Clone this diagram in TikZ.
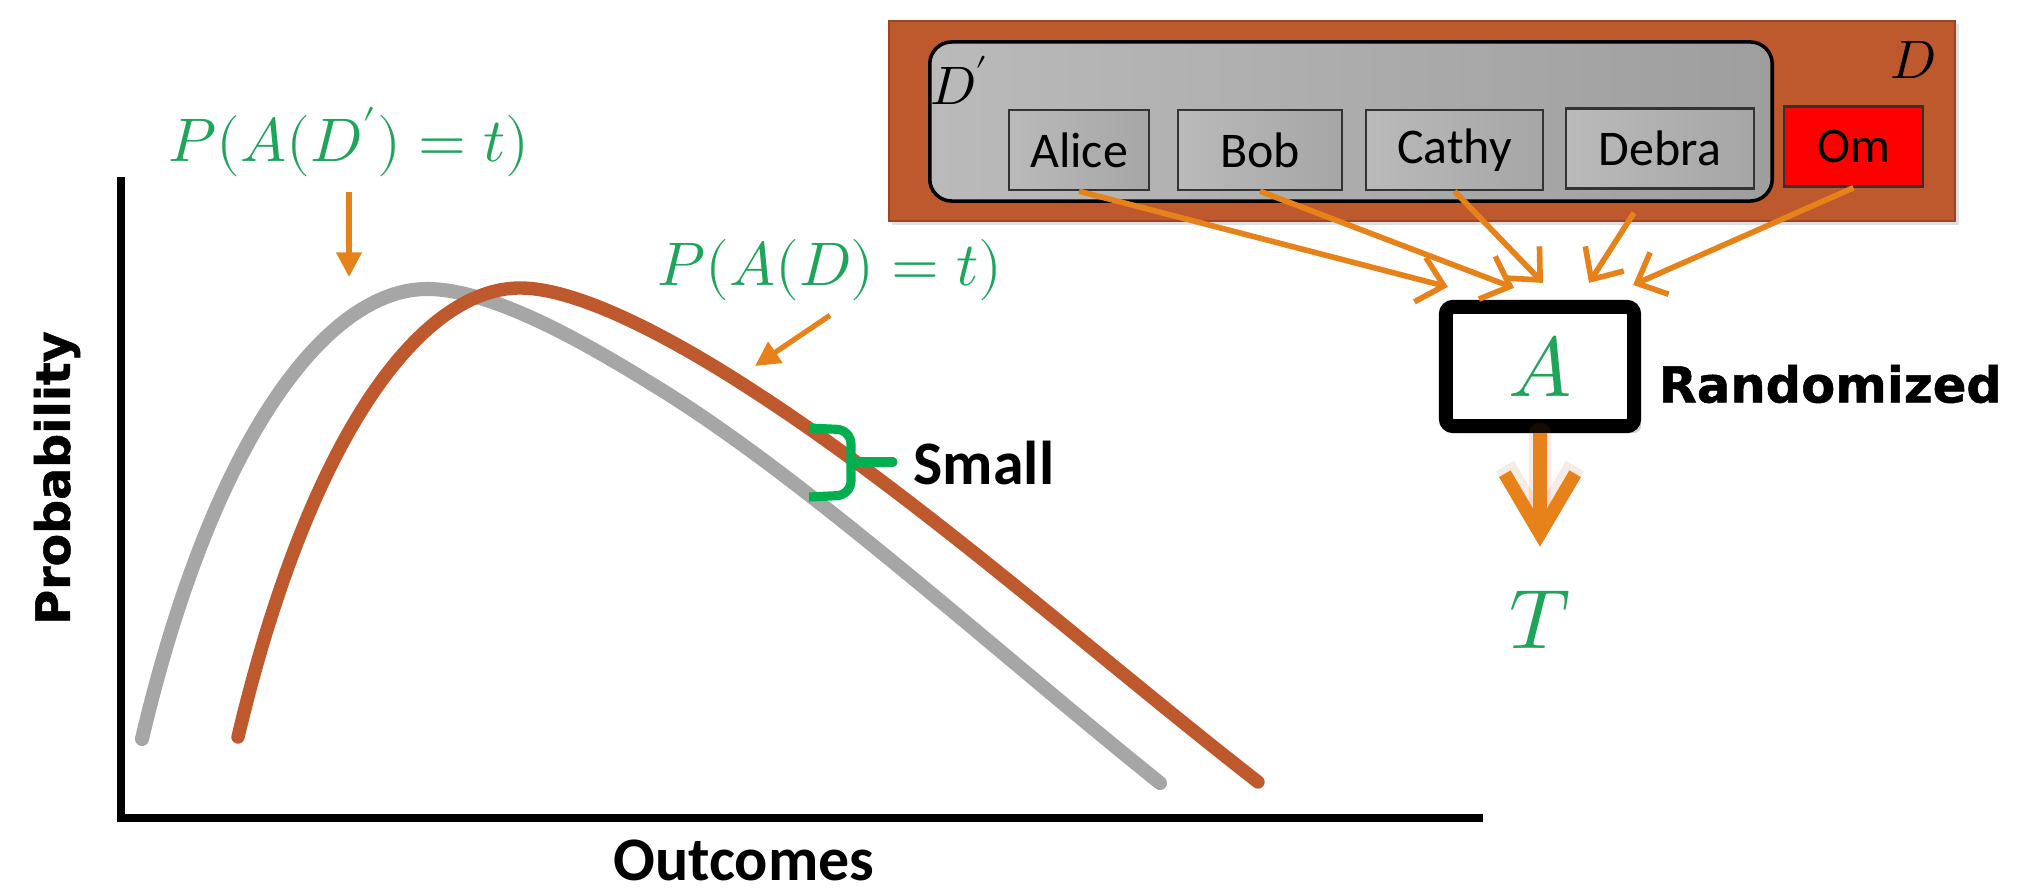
\documentclass[tikz,border=0pt]{standalone}
\usepackage{fontspec}
\usepackage{unicode-math}
\setmainfont{Carlito}
\newfontfamily\heavyfont{DejaVu Sans}[BoldFeatures={FakeBold=1}]
\usetikzlibrary{positioning, arrows.meta, shadows}

\definecolor{dpgreen}{RGB}{30,165,90}
\definecolor{bracegreen}{RGB}{0,176,80}
\definecolor{arrorange}{RGB}{230,130,25}
\definecolor{rust}{RGB}{190,88,45}
\definecolor{curvegray}{RGB}{166,166,166}

\begin{document}
\begin{tikzpicture}[x=0.01cm, y=-0.01cm,
    person/.style={draw=black!80, line width=0.7pt, minimum height=0.8cm, inner sep=0pt, left color=black!27, right color=black!35, font=\fontsize{14.2}{16}\selectfont},
    feed/.style={draw=arrorange, line width=1.6pt, -{Straight Barb[length=7pt, width=13pt]}},
    mathlbl/.style={text=dpgreen, font=\fontsize{17.5}{20}\selectfont, inner sep=0pt},
    pointer/.style={draw=arrorange, line width=1.5pt, -{Triangle[length=7pt, width=7pt]}},
    curve/.style={line width=4pt, line cap=round}
]
\useasboundingbox (0,0) rectangle (2023,891);

% plot
\draw[line width=2.2pt] (121,177) -- (121,818) -- (1483,818);
\node[rotate=90, font=\heavyfont\bfseries\fontsize{13.5}{16}\selectfont] (ylab) at (57,478) {Probability};
\node[font=\bfseries\fontsize{17.6}{20}\selectfont, anchor=base] (xlab) at (744,880) {Outcomes};

\draw[curve, curvegray] (142,739) .. controls (215,430) and (330,289) .. (427,289)
    .. controls (497,289) and (600,352) .. (660,389)
    .. controls (810,482) and (993,649) .. (1160,783);
\draw[curve, rust, line width=3.8pt] (238,737) .. controls (311,430) and (423,288) .. (520,288)
    .. controls (580,288) and (677,341) .. (755,392)
    .. controls (923,501) and (1090,651) .. (1258,782);

\node[mathlbl] (dprimelbl) at (349,142) {$P(A(D')=t)$};
\coordinate (graytop) at (349,277);
\draw[pointer] ([yshift=-0.14cm]dprimelbl.south) -- (graytop);

\node[mathlbl] (dlbl) at (830,270) {$P(A(D)=t)$};
\coordinate (rustslope) at (755,366);
\draw[pointer] ([yshift=-0.14cm]dlbl.south) -- (rustslope);

% brace
\draw[bracegreen, line width=2.6pt, rounded corners=4pt] (809,428) -- (851,430) -- (851,495) -- (809,497);
\draw[bracegreen, line width=2.6pt, line cap=round] (851,462) -- (893,462);
\node[font=\bfseries\fontsize{17.6}{20}\selectfont, anchor=west, inner sep=0pt] (small) at (913,463) {Small};

% data sets
\node[draw=rust!80!black, fill=rust, line width=0.6pt, minimum width=10.66cm, minimum height=2.0cm, drop shadow={opacity=0.25, shadow xshift=1pt, shadow yshift=-1pt}] (dbox) at (1422,121) {};
\node[draw=black, line width=1pt, rounded corners=0.22cm, left color=black!27, right color=black!38, minimum width=8.42cm, minimum height=1.59cm] (dpbox) at (1351,121.5) {};
\node[font=\fontsize{15.4}{18}\selectfont] (dplabel) at (960,80) {$D'$};
\node[font=\fontsize{15.4}{18}\selectfont] (dlabel) at (1913,60) {$D$};

\node[person, minimum width=1.40cm] (alice) at (1079,150) {Alice};
\node[person, minimum width=1.64cm] (bob) at (1260,150) {Bob};
\node[person, minimum width=1.77cm] (cathy) at (1454.5,150) {Cathy};
\node[person, minimum width=1.88cm] (debra) at (1660,148.5) {Debra};
\node[person, minimum width=1.39cm, left color=red, right color=red] (om) at (1853.5,146.5) {Om};

% algorithm
\node[draw=black, line width=4pt, rounded corners=2pt, fill=white, text=dpgreen, font=\fontsize{24}{28}\selectfont, minimum width=1.88cm, minimum height=1.19cm, drop shadow={opacity=0.35, shadow xshift=2pt, shadow yshift=-2pt}] (abox) at (1540,366.5) {$A$};
\node[font=\heavyfont\bfseries\fontsize{14.1}{17}\selectfont, anchor=west, inner sep=0pt] (rand) at (1658,384) {Randomized};
\node[text=dpgreen, font=\fontsize{24}{28}\selectfont, inner sep=0pt] (tout) at (1540,620) {$T$};

\draw[feed] (alice.south) -- ([xshift=-0.92cm, yshift=0.13cm]abox.north);
\draw[feed] (bob.south) -- ([xshift=-0.26cm, yshift=0.12cm]abox.north);
\draw[feed] (cathy.south) -- ([xshift=0.03cm, yshift=0.17cm]abox.north);
\draw[feed] ([xshift=-0.26cm, yshift=-0.23cm]debra.south) -- ([xshift=0.49cm, yshift=0.17cm]abox.north);
\draw[feed] (om.south) -- ([xshift=0.93cm, yshift=0.15cm]abox.north);

\draw[rust, opacity=0.12, line width=6pt, line cap=round, line join=round, shorten >=0.44cm, -{Straight Barb[length=17pt, width=20pt]}] (abox.south) -- (tout.north);
\draw[arrorange, line width=3.8pt, shorten >=0.44cm, -{Straight Barb[length=17pt, width=20pt]}] (abox.south) -- (tout.north);
\end{tikzpicture}
\end{document}
